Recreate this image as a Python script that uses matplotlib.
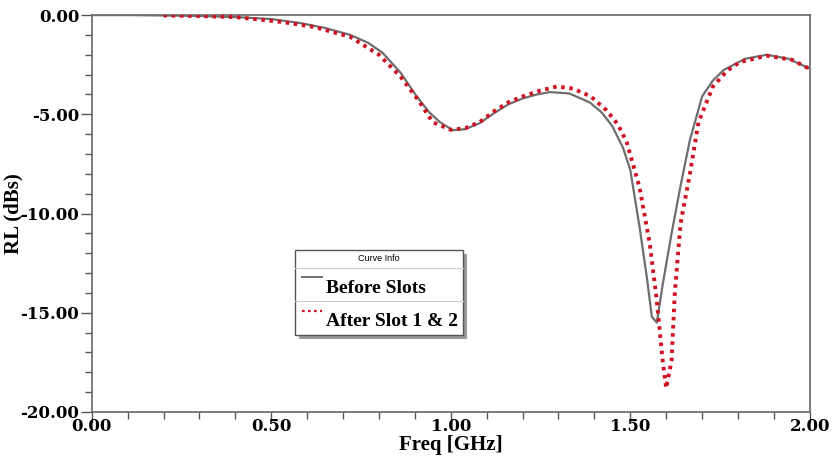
import matplotlib
matplotlib.use("Agg")
import matplotlib.pyplot as plt
from matplotlib.patches import Rectangle
from matplotlib.lines import Line2D
from matplotlib.ticker import MultipleLocator, FormatStrFormatter

# ---- data ----
freq_before = [0.00, 0.10, 0.20, 0.30, 0.40, 0.50, 0.58, 0.65, 0.72, 0.77, 0.81, 0.86,
               0.905, 0.94, 0.97, 1.006, 1.04, 1.08, 1.12, 1.16, 1.20, 1.24, 1.276,
               1.33, 1.387, 1.42, 1.45, 1.48, 1.50, 1.526, 1.546, 1.56, 1.574, 1.59,
               1.615, 1.64, 1.666, 1.70, 1.73, 1.76, 1.82, 1.88, 1.94, 2.00]
rl_before = [0.00, 0.00, -0.02, -0.05, -0.10, -0.20, -0.40, -0.65, -1.00, -1.40, -1.90, -2.90,
             -4.10, -4.90, -5.40, -5.80, -5.75, -5.45, -4.95, -4.50, -4.20, -4.00, -3.88,
             -3.95, -4.40, -4.90, -5.60, -6.70, -7.80, -10.70, -13.20, -15.20, -15.50, -13.60,
             -11.00, -8.60, -6.30, -4.10, -3.30, -2.77, -2.20, -2.00, -2.20, -2.70]

freq_after = [0.20, 0.30, 0.40, 0.53, 0.62, 0.72, 0.80, 0.86, 0.91, 0.95, 1.00, 1.04,
              1.08, 1.12, 1.16, 1.20, 1.25, 1.295, 1.34, 1.39, 1.434, 1.465, 1.49, 1.526,
              1.554, 1.574, 1.59, 1.600, 1.615, 1.624, 1.64, 1.666, 1.69, 1.73, 1.77,
              1.805, 1.88, 1.95, 2.00]
rl_after = [-0.02, -0.05, -0.10, -0.35, -0.60, -1.10, -2.00, -3.10, -4.30, -5.40, -5.78, -5.70,
            -5.40, -4.85, -4.40, -4.10, -3.80, -3.60, -3.70, -4.10, -4.80, -5.50, -6.40, -8.70,
            -11.50, -14.40, -17.40, -18.80, -17.40, -14.00, -10.50, -8.00, -5.40, -3.60, -2.80,
            -2.37, -2.05, -2.25, -2.72]

series_labels = ["Before Slots", "After Slot 1 & 2"]
legend_title = "Curve Info"
x_label = "Freq [GHz]"
y_label = "RL (dBs)"

# ---- figure ----
fig = plt.figure(figsize=(8.34, 4.57), dpi=100)
ax = fig.add_axes([0.110, 0.0985, 0.861, 0.8685])

grey = "#6e6e6e"
red = "#d01020"

ax.plot(freq_before, rl_before, color=grey, lw=1.6, solid_joinstyle="round", zorder=3)
ax.plot(freq_after, rl_after, color=red, lw=2.8, linestyle=(0, (0.9, 1.2)), zorder=4)

ax.set_xlim(0, 2.0)
ax.set_ylim(-20, 0)
ax.xaxis.set_major_locator(MultipleLocator(0.5))
ax.xaxis.set_minor_locator(MultipleLocator(0.1))
ax.yaxis.set_major_locator(MultipleLocator(5))
ax.yaxis.set_minor_locator(MultipleLocator(1))
ax.xaxis.set_major_formatter(FormatStrFormatter("%.2f"))
ax.yaxis.set_major_formatter(FormatStrFormatter("%.2f"))

serif = "Liberation Serif"
tick_serif = "DejaVu Serif"
for lab in ax.get_xticklabels() + ax.get_yticklabels():
    lab.set_fontfamily(tick_serif)
    lab.set_fontweight("bold")
    lab.set_fontsize(12)

ax.tick_params(axis="both", which="major", direction="out", length=8, width=1, color="#555555")
ax.tick_params(axis="both", which="minor", direction="out", length=5, width=1, color="#555555")
ax.tick_params(axis="x", which="major", pad=-4)
ax.tick_params(axis="y", which="major", pad=1)
for sp in ax.spines.values():
    sp.set_color("#666666")
    sp.set_linewidth(1.2)

ax.set_xlabel(x_label, fontfamily=serif, fontweight="bold", fontsize=15, labelpad=0)
ax.set_ylabel(y_label, fontfamily=serif, fontweight="bold", fontsize=15)
ax.yaxis.set_label_coords(-0.095, 0.5)

# ---- legend box (Curve Info style) ----
x0, x1 = 0.283, 0.517
y0, y1 = 0.194, 0.408
ysep1, ysep2 = 0.363, 0.280
tr = ax.transAxes
shadow = Rectangle((x0 + 0.005, y0 - 0.009), x1 - x0, y1 - y0, transform=tr,
                   facecolor="#9a9a9a", edgecolor="none", zorder=9)
box = Rectangle((x0, y0), x1 - x0, y1 - y0, transform=tr,
                facecolor="white", edgecolor="#555555", lw=1.0, zorder=10)
ax.add_patch(shadow)
ax.add_patch(box)
for ys in (ysep1, ysep2):
    ax.add_line(Line2D([x0, x1], [ys, ys], transform=tr, color="#cccccc", lw=0.8, zorder=11))
ax.text((x0 + x1) / 2, (y1 + ysep1) / 2, legend_title, transform=tr, ha="center", va="center",
        fontsize=6.5, fontfamily="Liberation Sans", zorder=12)
ax.add_line(Line2D([0.293, 0.320], [0.340, 0.340], transform=tr, color=grey, lw=1.4, zorder=12))
ax.text(0.326, 0.312, series_labels[0], transform=tr, ha="left", va="center",
        fontsize=14, fontweight="bold", fontfamily=serif, zorder=12)
ax.add_line(Line2D([0.293, 0.320], [0.255, 0.255], transform=tr, color=red, lw=1.6,
                   linestyle=(0, (1.2, 1.5)), zorder=12))
ax.text(0.326, 0.227, series_labels[1], transform=tr, ha="left", va="center",
        fontsize=14, fontweight="bold", fontfamily=serif, zorder=12)

fig.savefig("out.png", dpi=100)
